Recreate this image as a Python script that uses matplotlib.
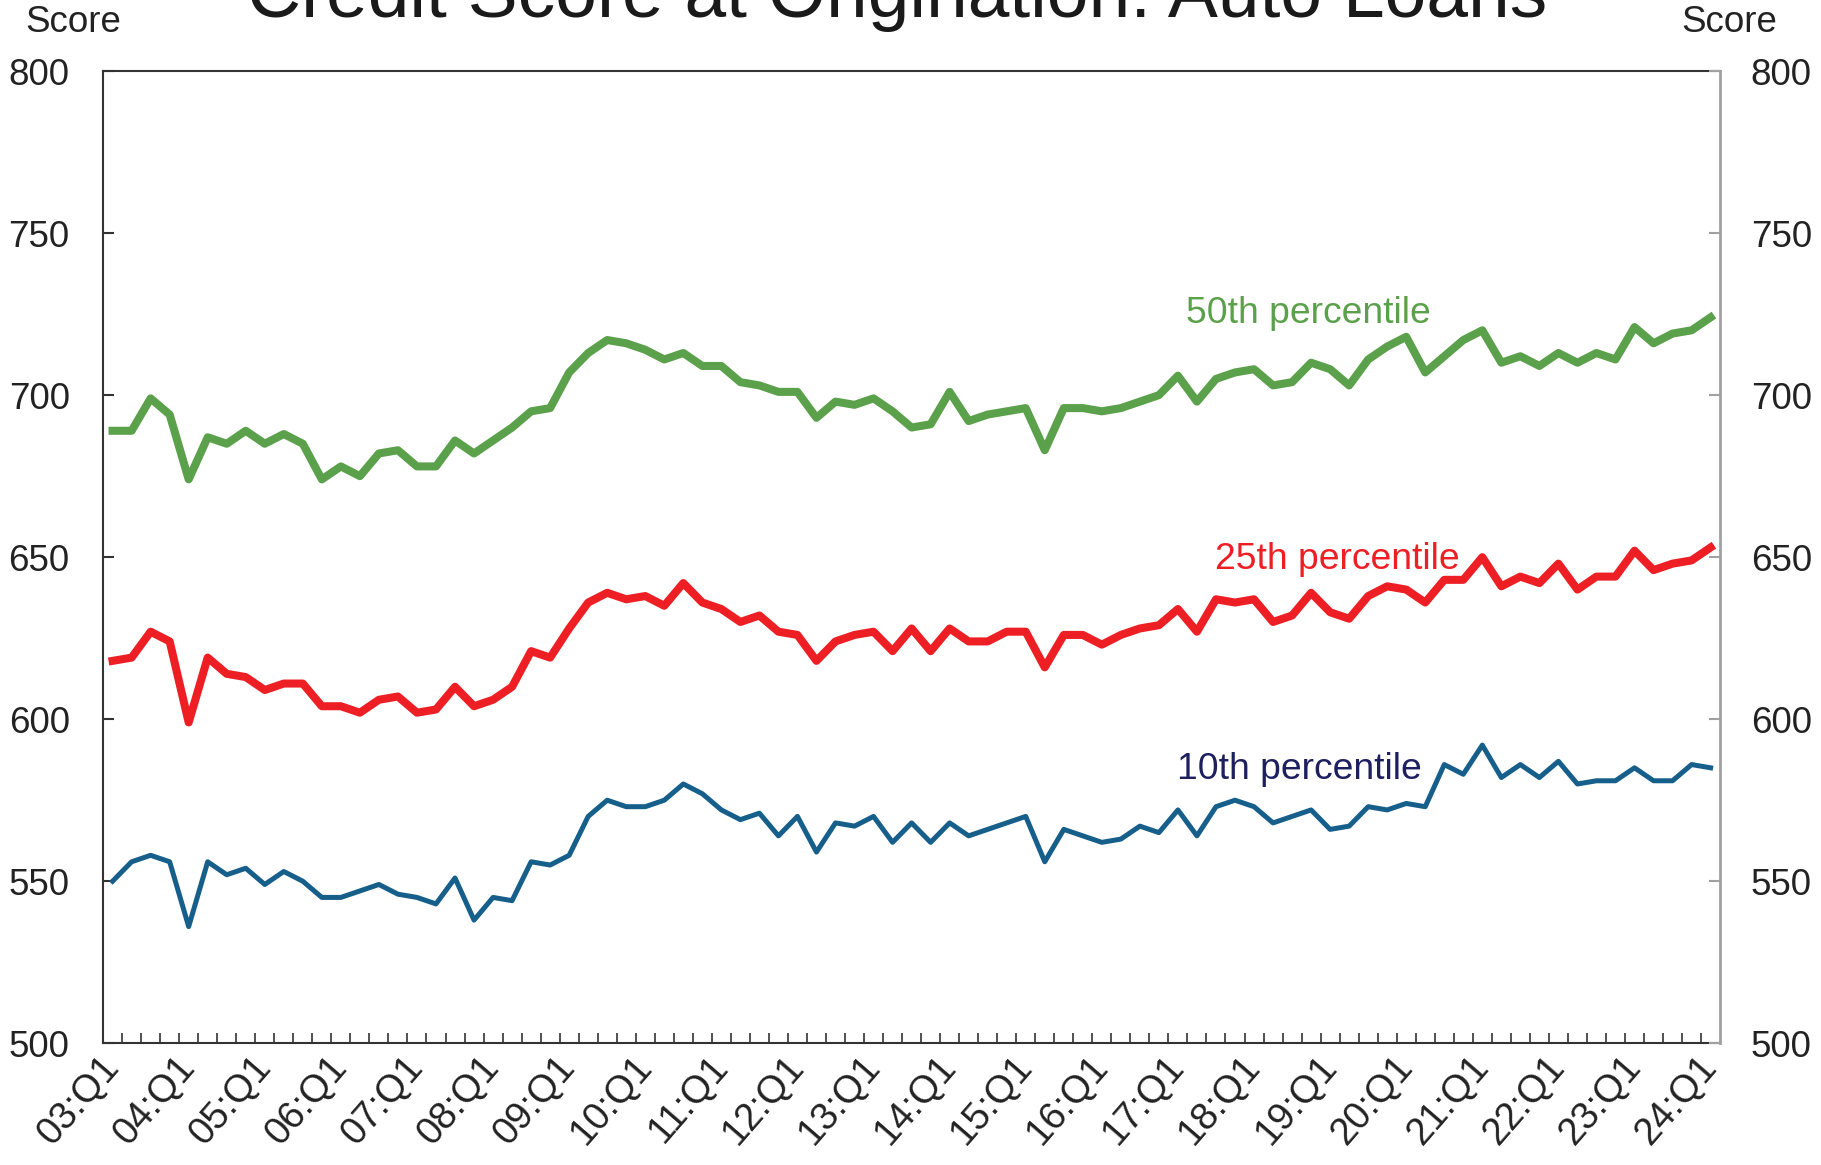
import numpy as np
import matplotlib.pyplot as plt

plt.rcParams['font.family'] = ['Liberation Sans', 'DejaVu Sans']

# quarterly labels 03:Q1 .. 24:Q1
quarters = [f"{y:02d}:Q{q}" for y in range(3, 25) for q in range(1, 5)][:85]

p50 = [689, 689, 699, 694, 674, 687, 685, 689, 685, 688, 685, 674, 678, 675, 682, 683,
       678, 678, 686, 682, 686, 690, 695, 696, 707, 713,
       717, 716, 714, 711, 713, 709, 709, 704, 703, 701, 701, 693, 698, 697, 699, 695,
       690, 691, 701, 692, 694, 695, 696, 683,
       696, 696, 695, 696, 698, 700, 706, 698, 705, 707, 708, 703, 704, 710, 708, 703,
       711, 715, 718, 707, 712, 717, 720, 710, 712, 709, 713, 710, 713, 711, 721, 716,
       719, 720, 724]
p25 = [618, 619, 627, 624, 599, 619, 614, 613, 609, 611, 611, 604, 604, 602, 606, 607,
       602, 603, 610, 604, 606, 610, 621, 619, 628, 636,
       639, 637, 638, 635, 642, 636, 634, 630, 632, 627, 626, 618, 624, 626, 627, 621,
       628, 621, 628, 624, 624, 627, 627, 616,
       626, 626, 623, 626, 628, 629, 634, 627, 637, 636, 637, 630, 632, 639, 633, 631,
       638, 641, 640, 636, 643, 643, 650, 641, 644, 642, 648, 640, 644, 644, 652, 646,
       648, 649, 653]
p10 = [550, 556, 558, 556, 536, 556, 552, 554, 549, 553, 550, 545, 545, 547, 549, 546,
       545, 543, 551, 538, 545, 544, 556, 555, 558, 570,
       575, 573, 573, 575, 580, 577, 572, 569, 571, 564, 570, 559, 568, 567, 570, 562,
       568, 562, 568, 564, 566, 568, 570, 556,
       566, 564, 562, 563, 567, 565, 572, 564, 573, 575, 573, 568, 570, 572, 566, 567,
       573, 572, 574, 573, 586, 583, 592, 582, 586, 582, 587, 580, 581, 581, 585, 581,
       581, 586, 585]

green = '#5BA14B'
red = '#ED1F24'
blue = '#175F8B'
navy = '#1D1F5E'

x = np.arange(len(quarters))

fig = plt.figure(figsize=(18.21, 11.65), dpi=100)
ax = fig.add_axes([0.0566, 0.1045, 0.888, 0.8345])

ax.plot(x, p50, color=green, lw=5.8)
ax.plot(x, p25, color=red, lw=5.8)
ax.plot(x, p10, color=blue, lw=3.6)

ax.text(56.45, 722.3, '50th percentile', color=green, fontsize=26.8, va='baseline')
ax.text(57.95, 646.4, '25th percentile', color=red, fontsize=26.8, va='baseline')
ax.text(55.95, 581.5, '10th percentile', color=navy, fontsize=26.8, va='baseline')

ax.set_xlim(-0.5, 84.5)
ax.set_ylim(500, 800)
ax.set_yticks(range(500, 801, 50))
ax.tick_params(axis='y', direction='in', length=8, width=1.5, labelsize=26.5,
               pad=24, colors='#333333', labelcolor='#222222')

ax.set_xticks(x[::4])
ax.set_xticklabels(quarters[::4], rotation=49, ha='right', va='center',
                   rotation_mode='anchor')
ax.set_xticks(np.arange(0.5, 84, 1), minor=True)
ax.tick_params(axis='x', which='major', length=0, labelsize=27.5, pad=13,
               labelcolor='#222222')
ax.tick_params(axis='x', which='minor', direction='in', length=7, width=1.2,
               color='#333333')

for s in ['left', 'bottom', 'top']:
    ax.spines[s].set_color('#333333')
    ax.spines[s].set_linewidth(1.5)
ax.spines['right'].set_visible(False)

ax2 = ax.twinx()
ax2.set_ylim(500, 800)
ax2.set_yticks(range(500, 801, 50))
ax2.tick_params(axis='y', direction='in', length=8, width=1.5, labelsize=26.5,
                pad=22, colors='#A0A0A0', labelcolor='#222222')
for s in ['left', 'bottom', 'top']:
    ax2.spines[s].set_visible(False)
ax2.spines['right'].set_color('#A0A0A0')
ax2.spines['right'].set_linewidth(2)

fig.text(25.5 / 1821, 1 - 22 / 1165, 'Score', fontsize=26.5, ha='left', va='center',
         color='#222222')
fig.text(1777 / 1821, 1 - 23 / 1165, 'Score', fontsize=26.5, ha='right', va='center',
         color='#222222')
fig.text(0.4925, 1 - 17 / 1165, 'Credit Score at Origination: Auto Loans',
         fontsize=54, ha='center', va='baseline', color='#1a1a1a')

fig.savefig('out.png', dpi=100)
